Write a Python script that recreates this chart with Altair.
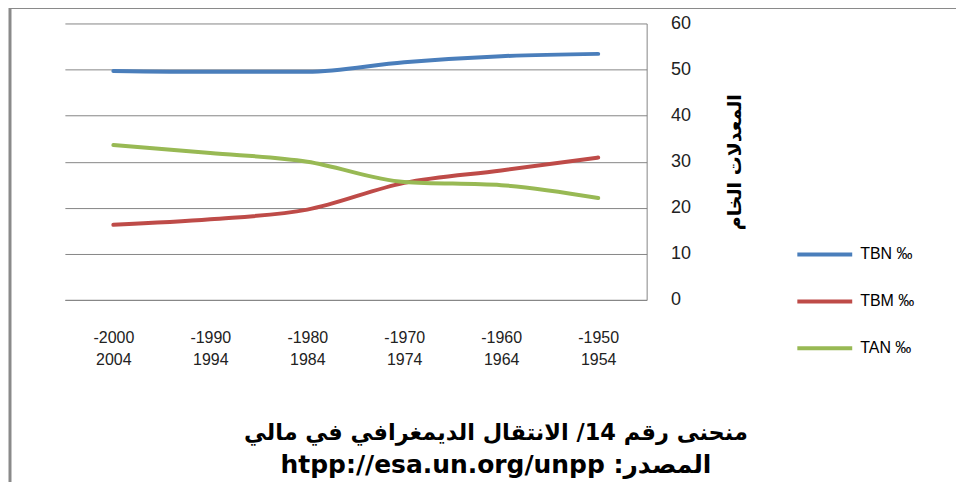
import altair as alt
import pandas as pd

# ---- data ----
periods = ["2000-2004", "1990-1994", "1980-1984", "1970-1974", "1960-1964", "1950-1954"]
tbn = [49.7, 49.5, 49.5, 51.6, 52.9, 53.4]
tbm = [16.3, 17.5, 19.6, 25.4, 28.1, 30.9]
tan = [33.6, 31.9, 30.0, 25.6, 24.9, 22.1]
series_names = ["TBN ‰", "TBM ‰", "TAN ‰"]
series_colors = ["#4A7EBB", "#BE4B48", "#98B954"]
y_ticks = [0, 10, 20, 30, 40, 50, 60]

title_line1 = "منحنى رقم 14/ الانتقال الديمغرافي في مالي"
title_line2 = "htpp://esa.un.org/unpp :المصدر"
y_title = "المعدلات الخام"

rows = []
for name, vals in zip(series_names, [tbn, tbm, tan]):
    for p, v in zip(periods, vals):
        rows.append({"period": p, "series": name, "value": v})
df = pd.DataFrame(rows)

lines = alt.Chart(df).mark_line(
    strokeWidth=4, interpolate="monotone", strokeCap="round"
).encode(
    x=alt.X(
        "period:N", sort=periods,
        scale=alt.Scale(paddingOuter=0.5, paddingInner=0),
        axis=alt.Axis(
            title=None, ticks=False, domainColor="#868686", domainWidth=1,
            labelAngle=0, labelPadding=30, labelFont="Liberation Sans",
            labelFontSize=16, labelColor="#222222", labelLineHeight=22,
            labelExpr="['-' + split(datum.label, '-')[0], split(datum.label, '-')[1]]",
            grid=False,
        ),
    ),
    y=alt.Y(
        "value:Q",
        scale=alt.Scale(domain=[0, 60], nice=False),
        axis=alt.Axis(
            orient="right", values=y_ticks, ticks=False, domainColor="#868686",
            gridColor="#868686", gridWidth=1, labelPadding=24,
            labelFont="Liberation Sans", labelFontSize=18, labelColor="#222222",
            title=y_title, titleFont="DejaVu Sans", titleFontSize=19,
            titleFontWeight="bold", titleColor="#000000", titleAngle=270,
            titlePadding=54,
        ),
    ),
    color=alt.Color(
        "series:N",
        scale=alt.Scale(domain=series_names, range=series_colors),
        legend=alt.Legend(
            orient="none", legendX=732, legendY=202, title=None,
            symbolType="stroke", symbolSize=3025, symbolStrokeWidth=4,
            labelFont="Liberation Sans", labelFontSize=16, labelColor="#000000",
            rowPadding=9, labelOffset=6, padding=0,
        ),
    ),
)

frame = alt.Chart(alt.Data(values=[{"f": 1}])).mark_rect(
    filled=False, stroke="#8a8a8a", strokeWidth=3
).encode(
    x=alt.value(-55), x2=alt.value(1000), y=alt.value(-16), y2=alt.value(700)
)

title1 = alt.Chart(alt.Data(values=[{"t": title_line1}])).mark_text(
    font="DejaVu Sans", fontSize=22.5, fontWeight="bold", color="#000000",
    align="center", baseline="alphabetic",
).encode(text="t:N", x=alt.value(432), y=alt.value(417))

title2 = alt.Chart(alt.Data(values=[{"t": title_line2}])).mark_text(
    font="DejaVu Sans", fontSize=25, fontWeight="bold", color="#000000",
    align="center", baseline="alphabetic",
).encode(text="t:N", x=alt.value(432), y=alt.value(450))

chart = alt.layer(frame, lines, title1, title2).properties(
    width=583,
    height=277,
    autosize=alt.AutoSizeParams(type="none"),
    padding={"left": 57, "top": 15, "right": 310, "bottom": 182},
).configure(background="white").configure_view(strokeWidth=0)

chart.save("out.html", embed_options={"renderer": "svg", "actions": False})
